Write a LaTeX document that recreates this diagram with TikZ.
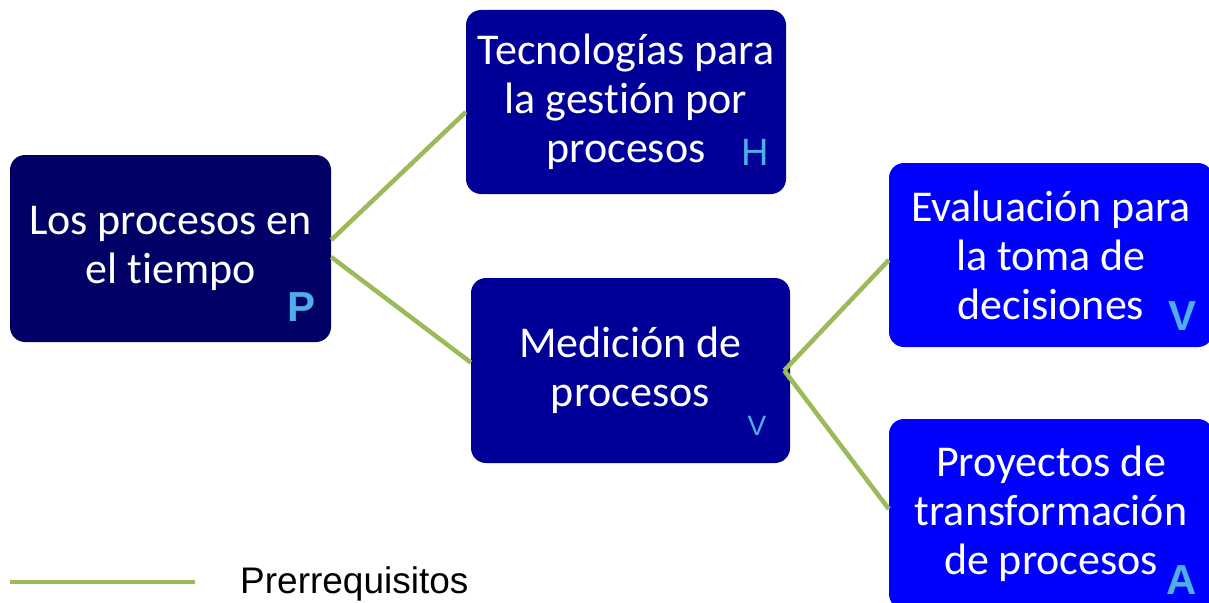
\documentclass[tikz,border=0pt]{standalone}
\usepackage{fontspec}
\setmainfont{Carlito}[Ligatures=NoCommon]
\newfontfamily\arialfont{Liberation Sans}
\definecolor{navyA}{HTML}{000066}
\definecolor{navyB}{HTML}{000099}
\definecolor{blueC}{HTML}{0000FF}
\definecolor{tagblue}{HTML}{4DAEE8}
\definecolor{prereq}{HTML}{9BBB59}
\begin{document}
\begin{tikzpicture}[x=1pt,y=-1pt,
   box/.style={rectangle,rounded corners=15pt,text=white,align=center,inner sep=0pt,
     font=\fontsize{44}{49}\selectfont},
   tag/.style={text=tagblue,inner sep=0pt,font=\arialfont\fontsize{42}{42}\selectfont\bfseries},
   link/.style={draw=prereq,line width=4.5pt}]
   \useasboundingbox (0,0) rectangle (1209,602);
   \node [box,fill=navyA,minimum width=321pt,minimum height=187pt] (tiempo) at (170.5,248.5) {Los procesos en\\el tiempo};
   \node [box,fill=navyB,minimum width=320pt,minimum height=184pt] (tecno) at (626,102) {Tecnologías para\\la gestión por\\procesos};
   \node [box,fill=navyB,minimum width=319pt,minimum height=185pt] (medicion) at (630.5,370.5) {Medición de\\procesos};
   \node [box,fill=blueC,minimum width=324pt,minimum height=184pt] (evalua) at (1051,255) {Evaluación para\\la toma de\\decisiones};
   \node [box,fill=blueC,minimum width=324pt,minimum height=190pt] (proyecto) at (1051,514) {Proyectos de\\transformación\\de procesos};
   \node [tag] (tagP) at (302,307) {P};
   \node [tag,font=\arialfont\fontsize{38}{38}\selectfont] (tagH) at (755,152) {H};
   \node [tag,font=\arialfont\fontsize{28}{28}\selectfont] (tagV) at (757,426) {V};
   \node [tag] (tagVV) at (1182,316) {V};
   \node [tag] (tagA) at (1182,580) {A};
   \draw [link] ([yshift=8.5pt]tiempo.east) -- ([yshift=-10pt]tecno.west);
   \draw [link] ([yshift=-8.5pt]tiempo.east) -- ([yshift=8pt]medicion.west);
   \draw [link] ([xshift=-6pt]medicion.east) -- ([yshift=-5pt]evalua.west);
   \draw [link] ([xshift=-6pt]medicion.east) -- ([yshift=5pt]proyecto.west);
   \coordinate (legA) at (10,582);
   \coordinate (legB) at (195,582);
   \draw [link] (legA) -- (legB);
   \node [right,inner sep=0pt,font=\arialfont\fontsize{37}{37}\selectfont] (legtext) at (240,584) {Prerrequisitos};
\end{tikzpicture}
\end{document}
